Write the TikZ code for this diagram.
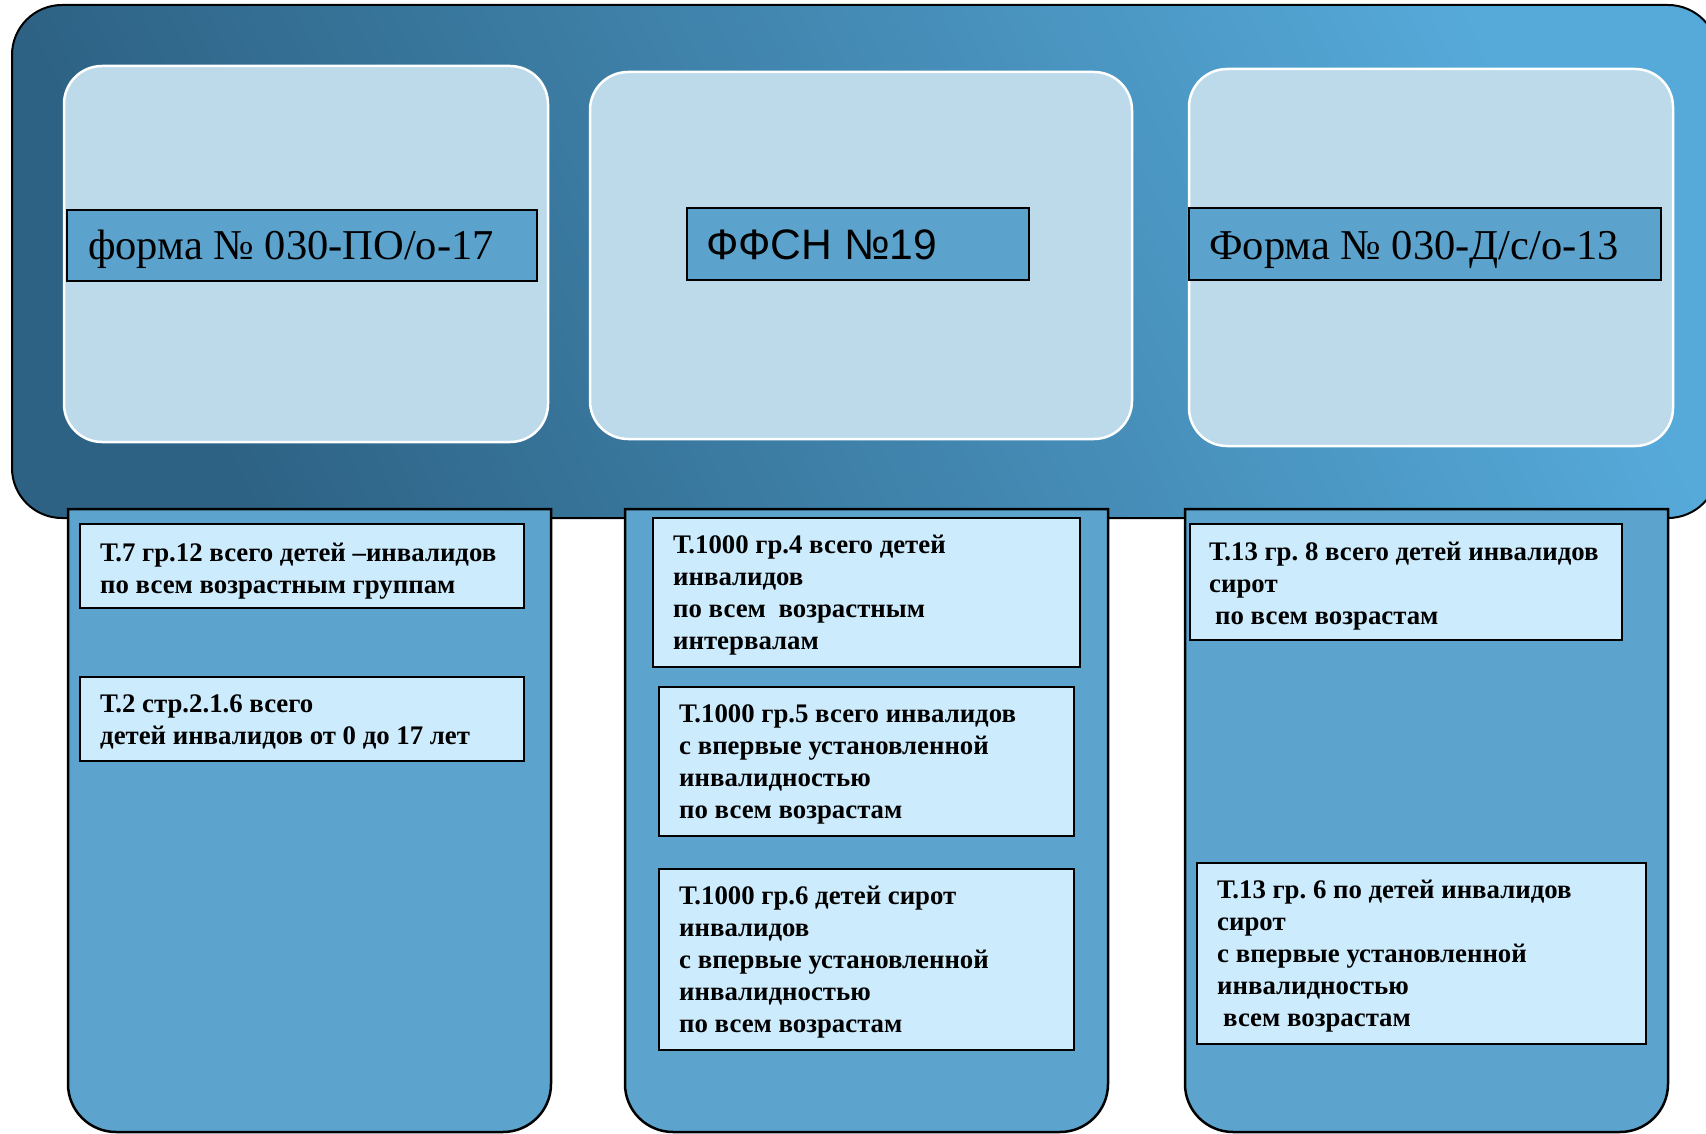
\documentclass[tikz,border=0pt]{standalone}
\usepackage{fontspec}
\setmainfont{Liberation Serif}
\newfontfamily\sansfont{Liberation Sans}
\frenchspacing
\definecolor{bgdark}{HTML}{2D6284}
\definecolor{bglight}{HTML}{56AADA}
\definecolor{panel}{HTML}{BDDAEB}
\definecolor{labelfill}{HTML}{5BA3CD}
\definecolor{colfill}{HTML}{5CA4CE}
\definecolor{itemfill}{HTML}{CCEBFC}
\begin{document}
\begin{tikzpicture}[x=1pt,y=-1pt,
  panelbox/.style={draw=white, line width=2.5pt, fill=panel, rounded corners=38pt, anchor=north west, inner sep=0pt, outer sep=0pt},
  labelbox/.style={draw=black, line width=1.5pt, fill=labelfill, anchor=north west, inner sep=0pt, outer sep=0pt},
  colbox/.style={draw=black, line width=2.5pt, fill=colfill},
  itembox/.style={draw=black, line width=2pt, fill=itemfill, anchor=north west, inner sep=0pt, outer sep=0pt},
  titletext/.style={anchor=base west, inner sep=0pt, font=\fontsize{42.5}{48}\selectfont},
  sanstitle/.style={anchor=base west, inner sep=0pt, font=\sansfont\fontsize{42.6}{48}\selectfont},
  itemtext/.style={anchor=base west, inner sep=0pt, align=left, font=\bfseries\fontsize{26.8}{32}\selectfont}
]
\useasboundingbox (0,0) rectangle (1706,1134);
% background panel
\shadedraw[line width=2pt, draw=black, rounded corners=50pt, top color=bglight, bottom color=bgdark, shading angle=-65] (12,5) rectangle (1718,518);
% light panels
\node[panelbox, minimum width=484pt, minimum height=376pt] (L1) at (64,66) {};
\node[panelbox, minimum width=542pt, minimum height=367pt] (L2) at (590,72) {};
\node[panelbox, minimum width=484pt, minimum height=377pt] (L3) at (1189,69) {};
% label boxes
\node[labelbox, minimum width=470pt, minimum height=71pt] (T1) at (67,210) {};
\node[labelbox, minimum width=342pt, minimum height=72pt] (T2) at (687,208) {};
\node[labelbox, minimum width=472pt, minimum height=72pt] (T3) at (1189,208) {};
\node[titletext] (t1) at (88,260) {форма № 030-ПО/о-17};
\node[sanstitle] (t2) at (706,260) {ФФСН №19};
\node[titletext] (t3) at (1209,260) {Форма № 030-Д/с/о-13};
% columns
\draw[colbox] (68,509) -- (551,509) -- (551,1084) arc[start angle=0, end angle=90, radius=48] -- (116,1132) arc[start angle=90, end angle=180, radius=48] -- cycle;
\draw[colbox] (625,509) -- (1108,509) -- (1108,1084) arc[start angle=0, end angle=90, radius=48] -- (673,1132) arc[start angle=90, end angle=180, radius=48] -- cycle;
\draw[colbox] (1185,509) -- (1668,509) -- (1668,1084) arc[start angle=0, end angle=90, radius=48] -- (1233,1132) arc[start angle=90, end angle=180, radius=48] -- cycle;
% item boxes
\node[itembox, minimum width=444pt, minimum height=84pt] (B1) at (80,524) {};
\node[itembox, minimum width=444pt, minimum height=84pt] (B2) at (80,677) {};
\node[itembox, minimum width=427pt, minimum height=149pt] (B3) at (653,518) {};
\node[itembox, minimum width=415pt, minimum height=149pt] (B4) at (659,687) {};
\node[itembox, minimum width=415pt, minimum height=181pt] (B5) at (659,869) {};
\node[itembox, minimum width=432pt, minimum height=116pt] (B6) at (1190,524) {};
\node[itembox, minimum width=449pt, minimum height=181pt] (B7) at (1197,863) {};
% item texts (anchor = baseline of last line)
\node[itemtext] (b1) at (100,593) {Т.7 гр.12 всего детей –инвалидов\\по всем возрастным группам};
\node[itemtext] (b2) at (100,744) {Т.2 стр.2.1.6 всего\\детей инвалидов от 0 до 17 лет};
\node[itemtext] (b3) at (673,649) {Т.1000 гр.4 всего детей\\инвалидов\\по всем\hspace{6pt} возрастным\\интервалам};
\node[itemtext] (b4) at (679,818) {Т.1000 гр.5 всего инвалидов\\с впервые установленной\\инвалидностью\\по всем возрастам};
\node[itemtext] (b5) at (679,1032) {Т.1000 гр.6 детей сирот\\инвалидов\\с впервые установленной\\инвалидностью\\по всем возрастам};
\node[itemtext] (b6) at (1209,624) {Т.13 гр. 8 всего детей инвалидов\\сирот\\\hspace*{6pt}по всем возрастам};
\node[itemtext] (b7) at (1217,1026) {Т.13 гр. 6 по детей инвалидов\\сирот\\с впервые установленной\\инвалидностью\\\hspace*{6pt}всем возрастам};
\end{tikzpicture}
\end{document}
